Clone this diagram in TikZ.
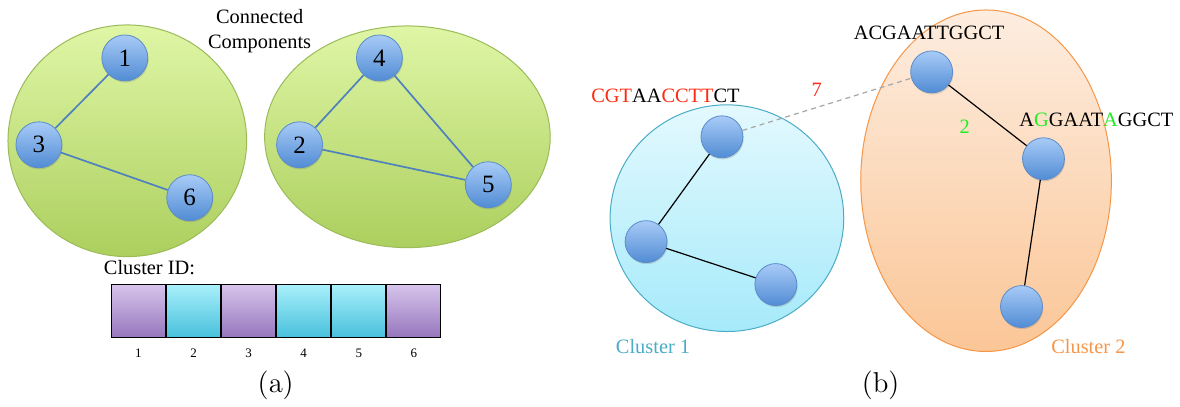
\documentclass[tikz,border=0pt]{standalone}
\usepackage[no-math]{fontspec}
\setmainfont{Liberation Serif}
\usetikzlibrary{shapes.geometric,shadows}
\definecolor{greenline}{HTML}{9BBB59}
\definecolor{greentop}{HTML}{DFF6A6}
\definecolor{greenbot}{HTML}{ACCF5E}
\definecolor{blueline}{HTML}{5A8CCB}
\definecolor{bluetop}{HTML}{A8CBF7}
\definecolor{bluebot}{HTML}{518CD4}
\definecolor{linkblue}{HTML}{4F81BD}
\definecolor{purptop}{HTML}{D7C4EC}
\definecolor{purpbot}{HTML}{9677BC}
\definecolor{cyantop}{HTML}{A9F0FB}
\definecolor{cyanbot}{HTML}{48C0DC}
\definecolor{clusoneline}{HTML}{4BACC6}
\definecolor{clusonetop}{HTML}{E3F9FE}
\definecolor{clusonebot}{HTML}{A6EAFA}
\definecolor{clustwoline}{HTML}{F79646}
\definecolor{clustwotop}{HTML}{FDEDE0}
\definecolor{clustwobot}{HTML}{FBC697}
\definecolor{dnared}{HTML}{FF2A12}
\definecolor{dnagreen}{HTML}{22EE22}
\definecolor{dashgrey}{HTML}{A6A6A6}
\tikzset{every node/.style={font=\fontsize{10.2}{12.5}\selectfont},
  comp/.style={ellipse,draw=greenline,top color=greentop,bottom color=greenbot,inner sep=0,line width=.5pt},
  vertex/.style={circle,draw=blueline,top color=bluetop,bottom color=bluebot,inner sep=0,
    minimum size=23pt,line width=.4pt,drop shadow={opacity=.3,shadow xshift=.4pt,shadow yshift=-.8pt},
    font=\fontsize{12.5}{14}\selectfont},
  seq/.style={minimum size=21pt},
  link/.style={draw=linkblue,line width=.85pt},
  tie/.style={draw=black,line width=.6pt},
  far/.style={draw=dashgrey,line width=.6pt,dash pattern=on 2.5pt off 2pt},
  idcell/.style={rectangle,draw=black,line width=.6pt,inner sep=0,minimum width=27.1pt,minimum height=26.5pt},
  purple/.style={idcell,top color=purptop,bottom color=purpbot},
  cyan/.style={idcell,top color=cyantop,bottom color=cyanbot},
  idnum/.style={font=\fontsize{6.5}{8}\selectfont},
  caption/.style={font=\fontsize{15.5}{18}\selectfont}}
\begin{document}
\begin{tikzpicture}[x=.5pt,y=-.5pt]
\fill[white] (0,0) rectangle (1180,407);
% (a) connected components
\node[comp,minimum width=119.5pt,minimum height=116pt] (compa) at (127.5,141) {};
\node[comp,minimum width=143pt,minimum height=111pt] (compb) at (408,137) {};
\node[align=center] (cctext) at (260,31) {Connected\\Components};
\node[vertex] (v1) at (125,58) {1};\node[vertex] (v3) at (39,145) {3};\node[vertex] (v6) at (190,198) {6};
\node[vertex] (v4) at (380,58) {4};\node[vertex] (v2) at (300,145) {2};\node[vertex] (v5) at (489,185) {5};
\draw[link] (v1)--(v3);\draw[link] (v3)--(v6);
\draw[link] (v4)--(v2);\draw[link] (v4)--(v5);\draw[link] (v2)--(v5);
\node[anchor=west] (idtext) at (97,268) {Cluster ID:};
\node[purple] (id1) at (138.6,311.3) {};\node[cyan] (id2) at (193.8,311.3) {};
\node[purple] (id3) at (248.9,311.3) {};\node[cyan] (id4) at (304.1,311.3) {};
\node[cyan] (id5) at (359.3,311.3) {};\node[purple] (id6) at (414.4,311.3) {};
\node[idnum] at (138.6,354) {1};\node[idnum] at (193.8,354) {2};\node[idnum] at (248.9,354) {3};
\node[idnum] at (304.1,354) {4};\node[idnum] at (359.3,354) {5};\node[idnum] at (414.4,354) {6};
\node[caption] (capa) at (276,386) {$\mathrm{(a)}$};
% (b) clusters
\node[ellipse,draw=clusoneline,top color=clusonetop,bottom color=clusonebot,inner sep=0,line width=.5pt,
  minimum width=117pt,minimum height=113.5pt] (clusone) at (728,218.5) {};
\node[ellipse,draw=clustwoline,top color=clustwotop,bottom color=clustwobot,inner sep=0,line width=.5pt,
  minimum width=125.5pt,minimum height=171pt] (clustwo) at (987.5,181) {};
\node[vertex,seq] (sa) at (723,137) {};\node[vertex,seq] (sb) at (647,242) {};\node[vertex,seq] (sc) at (777,285) {};
\node[vertex,seq] (sd) at (933,72) {};\node[vertex,seq] (se) at (1045,159) {};\node[vertex,seq] (sf) at (1023,307) {};
\draw[tie] (sa)--(sb);\draw[tie] (sb)--(sc);
\draw[tie] (sd)--(se);\draw[tie] (se)--(sf);
\draw[far] (sa)--(sd);
\node (seqa) at (666.5,96) {\textcolor{dnared}{CGT}AA\textcolor{dnared}{CCTT}CT};
\node (seqd) at (930.5,33) {ACGAATTGGCT};
\node (seqe) at (1098,120) {A\textcolor{dnagreen}{G}GAAT\textcolor{dnagreen}{A}GGCT};
\node[dnared] (dist7) at (818,90) {7};
\node[dnagreen] (dist2) at (966,127) {2};
\node[clusoneline] (labone) at (654,347) {Cluster 1};
\node[clustwoline] (labtwo) at (1090,347) {Cluster 2};
\node[caption] (capb) at (882,386) {$\mathrm{(b)}$};
\end{tikzpicture}
\end{document}
